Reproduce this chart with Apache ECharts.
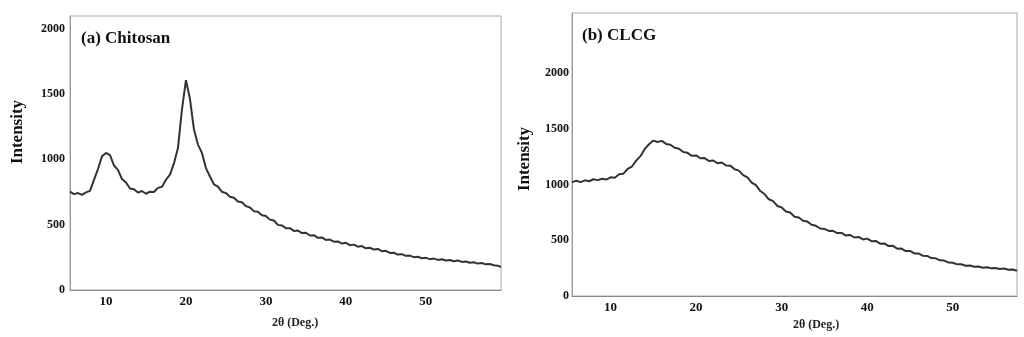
<!DOCTYPE html>
<html>
<head>
<meta charset="utf-8">
<script src="https://cdn.jsdelivr.net/npm/echarts@6/dist/echarts.min.js"></script>
<style>
html,body{margin:0;padding:0;background:#fff;}
#chart{width:1024px;height:337px;}
</style>
</head>
<body>
<div id="chart"></div>
<script>
// (a) Chitosan
const chitosanAngle = [5.5,6,6.5,7,7.5,8,8.5,9,9.5,10,10.5,11,11.5,12,12.5,13,13.5,14,14.5,15,15.5,16,16.5,17,17.5,18,18.5,19,19.5,20,20.5,21,21.5,22,22.5,23,23.5,24,24.5,25,25.5,26,26.5,27,27.5,28,28.5,29,29.5,30,30.5,31,31.5,32,32.5,33,33.5,34,34.5,35,35.5,36,36.5,37,37.5,38,38.5,39,39.5,40,40.5,41,41.5,42,42.5,43,43.5,44,44.5,45,45.5,46,46.5,47,47.5,48,48.5,49,49.5,50,50.5,51,51.5,52,52.5,53,53.5,54,54.5,55,55.5,56,56.5,57,57.5,58,58.5,59,59.4];
const chitosanIntensity = [752,733,741,728,746,758,842,925,1022,1048,1031,952,918,848,822,776,771,745,757,736,752,749,781,790,843,882,968,1085,1380,1605,1462,1228,1112,1048,932,868,808,790,751,741,713,706,676,671,641,631,603,599,571,566,538,531,498,494,472,473,452,455,435,438,417,419,399,402,383,386,369,371,355,361,343,347,331,336,319,323,309,314,297,300,283,285,271,274,261,263,251,254,243,246,236,240,230,235,225,229,220,225,215,218,208,212,202,206,196,199,189,186,176];

// (b) CLCG
const clcgAngle = [5.5,6,6.5,7,7.5,8,8.5,9,9.5,10,10.5,11,11.5,12,12.5,13,13.5,14,14.5,15,15.5,16,16.5,17,17.5,18,18.5,19,19.5,20,20.5,21,21.5,22,22.5,23,23.5,24,24.5,25,25.5,26,26.5,27,27.5,28,28.5,29,29.5,30,30.5,31,31.5,32,32.5,33,33.5,34,34.5,35,35.5,36,36.5,37,37.5,38,38.5,39,39.5,40,40.5,41,41.5,42,42.5,43,43.5,44,44.5,45,45.5,46,46.5,47,47.5,48,48.5,49,49.5,50,50.5,51,51.5,52,52.5,53,53.5,54,54.5,55,55.5,56,56.5,57,57.5];
const clcgIntensity = [1020,1035,1022,1038,1030,1048,1040,1052,1045,1065,1062,1092,1098,1140,1162,1215,1255,1320,1362,1395,1382,1392,1365,1358,1330,1322,1292,1285,1258,1262,1236,1238,1212,1216,1192,1198,1172,1170,1138,1125,1085,1065,1018,995,942,915,868,852,808,795,758,750,712,705,675,668,640,630,606,602,584,585,565,566,542,548,525,530,508,515,492,494,470,472,448,450,425,426,403,404,382,382,361,360,340,338,320,318,300,298,284,285,272,274,262,265,254,258,248,252,243,246,236,238,226];

const xTickLabels = [10, 20, 30, 40, 50];
const yTickLabels = [0, 500, 1000, 1500, 2000];
const panelTitles = ['(a) Chitosan', '(b) CLCG'];
const xAxisTitle = '2θ (Deg.)';
const yAxisTitle = 'Intensity';

const serif = '"Liberation Serif", "Times New Roman", serif';

function pairs(xs, ys) { return xs.map((x, i) => [x, ys[i]]); }

function xAxisOf(gi, max, margin) {
  return {
    type: 'value', gridIndex: gi, min: 5.5, max: max, splitNumber: 5,
    axisLine: { show: true, lineStyle: { color: '#888', width: 1 } },
    axisTick: { show: false },
    splitLine: { show: false },
    axisLabel: {
      margin: margin, color: '#111', fontFamily: serif, fontWeight: 'bold', fontSize: 13,
      showMinLabel: false, showMaxLabel: false,
      formatter: v => xTickLabels.indexOf(Math.round(v * 1000) / 1000) >= 0 ? String(v) : ''
    }
  };
}
function yAxisOf(gi, max, margin) {
  return {
    type: 'value', gridIndex: gi, min: 0, max: max, interval: 500,
    axisLine: { show: true, lineStyle: { color: '#999', width: 1 } },
    axisTick: { show: false },
    splitLine: { show: false },
    axisLabel: {
      margin: margin, color: '#111', fontFamily: serif, fontWeight: 'bold', fontSize: 12,
      showMaxLabel: false,
      formatter: v => yTickLabels.indexOf(v) >= 0 ? String(v) : ''
    }
  };
}

const chart = echarts.init(document.getElementById('chart'), null, { renderer: 'canvas' });
chart.setOption({
  animation: false,
  backgroundColor: '#fff',
  grid: [
    { left: 70, top: 16, width: 431, height: 274, show: true, borderColor: '#aaa', borderWidth: 1, containLabel: false },
    { left: 572, top: 13, width: 445, height: 283, show: true, borderColor: '#aaa', borderWidth: 1, containLabel: false }
  ],
  xAxis: [ xAxisOf(0, 59.4, 5), xAxisOf(1, 57.5, 5) ],
  yAxis: [ yAxisOf(0, 2095, 5), yAxisOf(1, 2540, 3) ],
  series: [
    { type: 'line', xAxisIndex: 0, yAxisIndex: 0, data: pairs(chitosanAngle, chitosanIntensity),
      showSymbol: false, symbol: 'none', lineStyle: { color: '#333', width: 2 } },
    { type: 'line', xAxisIndex: 1, yAxisIndex: 1, data: pairs(clcgAngle, clcgIntensity),
      showSymbol: false, symbol: 'none', lineStyle: { color: '#333', width: 2 } }
  ],
  graphic: [
    { type: 'text', left: 81, top: 30, style: { text: panelTitles[0], font: 'bold 17px ' + serif, fill: '#111' } },
    { type: 'text', left: 582, top: 27, style: { text: panelTitles[1], font: 'bold 17px ' + serif, fill: '#111' } },
    { type: 'text', x: 18, y: 132, rotation: Math.PI / 2,
      style: { text: yAxisTitle, font: 'bold 17px ' + serif, fill: '#111', align: 'center', verticalAlign: 'middle' } },
    { type: 'text', x: 525, y: 159, rotation: Math.PI / 2,
      style: { text: yAxisTitle, font: 'bold 17px ' + serif, fill: '#111', align: 'center', verticalAlign: 'middle' } },
    { type: 'text', x: 295, y: 323,
      style: { text: xAxisTitle, font: 'bold 12px ' + serif, fill: '#222', align: 'center', verticalAlign: 'middle' } },
    { type: 'text', x: 816, y: 325,
      style: { text: xAxisTitle, font: 'bold 12px ' + serif, fill: '#222', align: 'center', verticalAlign: 'middle' } }
  ]
});
</script>
</body>
</html>
